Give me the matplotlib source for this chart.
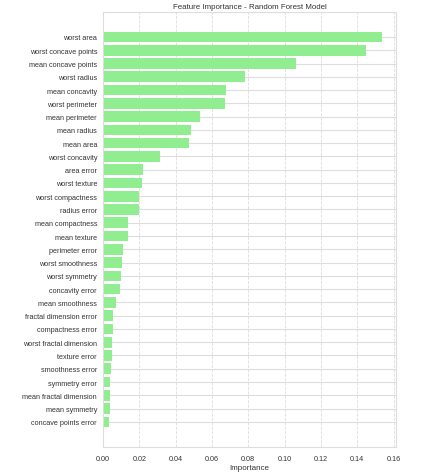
import matplotlib
matplotlib.use("Agg")
import matplotlib.pyplot as plt

features = [
    "worst area", "worst concave points", "mean concave points", "worst radius",
    "mean concavity", "worst perimeter", "mean perimeter", "mean radius",
    "mean area", "worst concavity", "area error", "worst texture",
    "worst compactness", "radius error", "mean compactness", "mean texture",
    "perimeter error", "worst smoothness", "worst symmetry", "concavity error",
    "mean smoothness", "fractal dimension error", "compactness error",
    "worst fractal dimension", "texture error", "smoothness error",
    "symmetry error", "mean fractal dimension", "mean symmetry",
    "concave points error",
]
importance = [
    0.1537, 0.1447, 0.1061, 0.0780, 0.0678, 0.0672, 0.0533, 0.0485,
    0.0474, 0.0316, 0.0222, 0.0217, 0.0200, 0.0200, 0.0140, 0.0136,
    0.0112, 0.0105, 0.0099, 0.0092, 0.0070, 0.0055, 0.0055, 0.0050,
    0.0048, 0.0044, 0.0040, 0.0039, 0.0039, 0.0035,
]
xticks = [0.00, 0.02, 0.04, 0.06, 0.08, 0.10, 0.12, 0.14, 0.16]

plt.rcParams["font.family"] = ["Liberation Sans", "DejaVu Sans"]

fig = plt.figure(figsize=(4.48, 4.77), dpi=100)
ax = fig.add_axes([0.230, 0.061, 0.654, 0.912])

pos = list(range(len(features)))
ax.barh(pos, importance, color="lightgreen", height=0.8, zorder=2)
ax.set_yticks(pos)
ax.set_yticklabels(features)
ax.invert_yaxis()
ax.set_xticks(xticks)
ax.set_xticklabels([f"{t:.2f}" for t in xticks])

ax.set_axisbelow(True)
ax.grid(axis="y", color="#dddddd", linewidth=0.8, linestyle="-")
ax.grid(axis="x", color="#dddddd", linewidth=0.6, linestyle="--")
for s in ax.spines.values():
    s.set_color("#dddddd")
    s.set_linewidth(0.8)
ax.tick_params(axis="y", length=0, labelsize=5.2, colors="#333333", pad=4.3)
ax.tick_params(axis="x", length=0, labelsize=5.2, colors="#333333", pad=5.5)
ax.set_xlabel("Importance", fontsize=5.8, color="#333333", labelpad=2)
ax.set_title("Feature Importance - Random Forest Model", fontsize=5.7, color="#333333", pad=3)

fig.savefig("out.png", dpi=100, facecolor="white")
